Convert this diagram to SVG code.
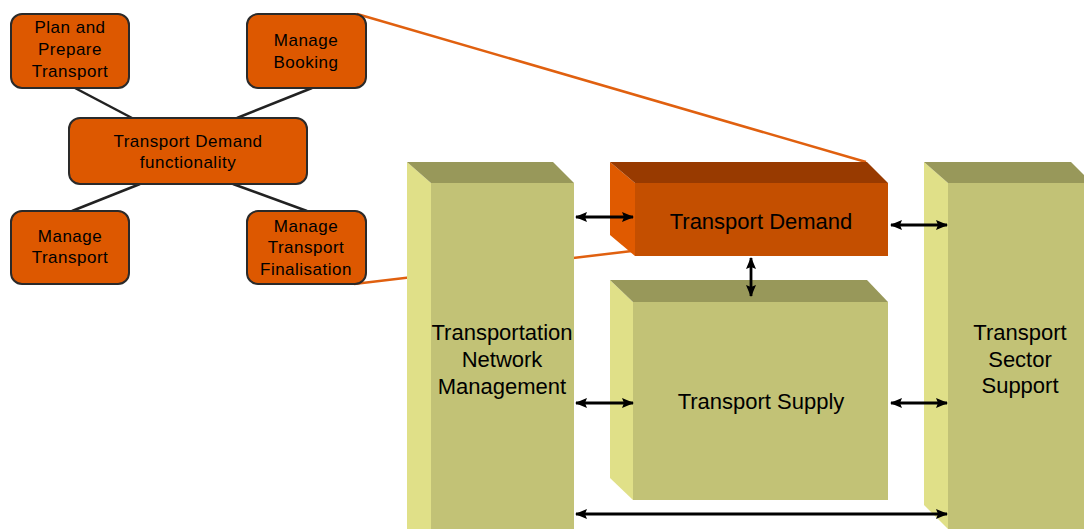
<svg xmlns="http://www.w3.org/2000/svg" width="1084" height="529" viewBox="0 0 1084 529">
<defs>
<style>
.on{fill:#dd5800;stroke:#2a2a2a;stroke-width:2}
.st{font-family:"Liberation Sans",Arial,sans-serif;font-size:17px;letter-spacing:0.5px;fill:#000;text-anchor:middle}
.bt{font-family:"Liberation Sans",Arial,sans-serif;font-size:22px;fill:#000;text-anchor:middle}
.gf{fill:#c2c276}.gt{fill:#98985a}.gs{fill:#e0e088}
.of{fill:#c44f00}.ot{fill:#983a00}.os{fill:#e05a00}
.ln{stroke:#222;stroke-width:2.5;fill:none}
.ol{stroke:#e0600f;stroke-width:2.5;fill:none}
.ar{stroke:#000;stroke-width:2.8;fill:none;marker-start:url(#ah);marker-end:url(#ah)}
</style>
<marker id="ah" viewBox="0 0 12 12" refX="11" refY="6" markerWidth="12" markerHeight="12" orient="auto-start-reverse" markerUnits="userSpaceOnUse">
<path d="M0,1 L12,6 L0,11 L2,6 Z" fill="#000"/>
</marker>
</defs>
<rect width="1084" height="529" fill="#fff"/>
<g id="orange-lines">
<line class="ol" x1="357" y1="14" x2="866" y2="162"/>
<line class="ol" x1="354" y1="284" x2="632" y2="251"/>
</g>
<g id="tnm">
<polygon class="gs" points="407,162 431,183 431,529 407,529"/>
<polygon class="gt" points="407,162 553,162 574,183 431,183"/>
<rect class="gf" x="431" y="183" width="143" height="346"/>
<text class="bt" x="502" y="340">Transportation</text>
<text class="bt" x="502" y="367">Network</text>
<text class="bt" x="502" y="394">Management</text>
</g>
<g id="tss">
<polygon class="gs" points="924,162 948,183 948,529 924,505"/>
<polygon class="gt" points="924,162 1071,162 1092,183 948,183"/>
<rect class="gf" x="948" y="183" width="143" height="346"/>
<text class="bt" x="1020" y="340">Transport</text>
<text class="bt" x="1020" y="367">Sector</text>
<text class="bt" x="1020" y="393">Support</text>
</g>
<g id="td">
<polygon class="os" points="610,162 635,183 635,256 610,235"/>
<polygon class="ot" points="610,162 867,162 888,183 635,183"/>
<rect class="of" x="635" y="183" width="253" height="73"/>
<text class="bt" x="761" y="229">Transport Demand</text>
</g>
<g id="ts">
<polygon class="gs" points="610,280 633,302 633,500 610,478"/>
<polygon class="gt" points="610,280 867,280 888,302 633,302"/>
<rect class="gf" x="633" y="302" width="255" height="198"/>
<text class="bt" x="761" y="409">Transport Supply</text>
</g>
<g id="connectors">
<line class="ln" x1="75" y1="88" x2="132" y2="118"/>
<line class="ln" x1="312" y1="88" x2="237" y2="118"/>
<line class="ln" x1="140" y1="184" x2="72" y2="211"/>
<line class="ln" x1="233" y1="184" x2="307" y2="211"/>
<line class="ar" x1="576" y1="217" x2="633" y2="217"/>
<line class="ar" x1="891" y1="225" x2="947" y2="225"/>
<line class="ar" x1="751" y1="258" x2="751" y2="296"/>
<line class="ar" x1="576" y1="403" x2="633" y2="403"/>
<line class="ar" x1="891" y1="403" x2="947" y2="403"/>
<line class="ar" x1="576" y1="514" x2="947" y2="514"/>
</g>
<g id="n-plan">
<rect class="on" x="11" y="14" width="118" height="74" rx="11"/>
<text class="st" x="70" y="33">Plan and</text>
<text class="st" x="70" y="55">Prepare</text>
<text class="st" x="70" y="77">Transport</text>
</g>
<g id="n-booking">
<rect class="on" x="247" y="14" width="119" height="74" rx="11"/>
<text class="st" x="306" y="46">Manage</text>
<text class="st" x="306" y="68">Booking</text>
</g>
<g id="n-tdf">
<rect class="on" x="69" y="118" width="238" height="66" rx="11"/>
<text class="st" x="188" y="147">Transport Demand</text>
<text class="st" x="188" y="168">functionality</text>
</g>
<g id="n-mt">
<rect class="on" x="11" y="211" width="118" height="73" rx="11"/>
<text class="st" x="70" y="242">Manage</text>
<text class="st" x="70" y="263">Transport</text>
</g>
<g id="n-mtf">
<rect class="on" x="247" y="211" width="119" height="73" rx="11"/>
<text class="st" x="306" y="232">Manage</text>
<text class="st" x="306" y="253">Transport</text>
<text class="st" x="306" y="275">Finalisation</text>
</g>
</svg>
